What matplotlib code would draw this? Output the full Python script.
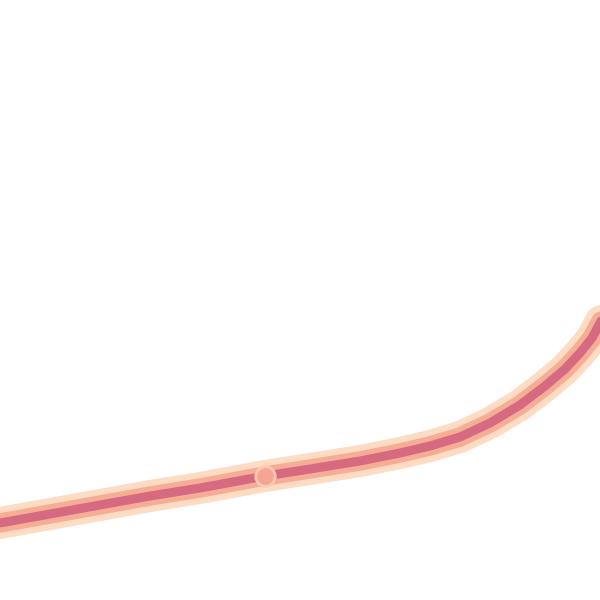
import matplotlib
matplotlib.use("Agg")
import matplotlib.pyplot as plt

# centerline of the curve (x in px units, y measured downward)
xs = [0, 50, 100, 150, 200, 265, 310, 360, 400, 430, 460, 490, 520, 545, 565, 580, 592, 600, 612]
ys = [523, 514, 505, 496, 488, 476, 469, 461, 453, 446, 437, 423, 405, 386, 369, 353, 338, 323, 300]
marker_x = [265]
marker_y = [476]

fig = plt.figure(figsize=(6, 6), dpi=100)
ax = fig.add_axes([0, 0, 1, 1])
ax.set_xlim(0, 600)
ax.set_ylim(600, 0)
ax.axis("off")

ax.plot(xs, ys, color="#fedcc4", lw=23, solid_capstyle="round", solid_joinstyle="round")
ax.plot(xs, ys, color="#f6ad96", lw=14, solid_capstyle="round", solid_joinstyle="round")
ax.plot(xs, ys, color="#d66a80", lw=6.5, solid_capstyle="round", solid_joinstyle="round")
ax.plot(marker_x, marker_y, "o", ms=14, mfc="#f4a592", mec="#fbc8b0", mew=2)

fig.savefig("out.png", dpi=100)
